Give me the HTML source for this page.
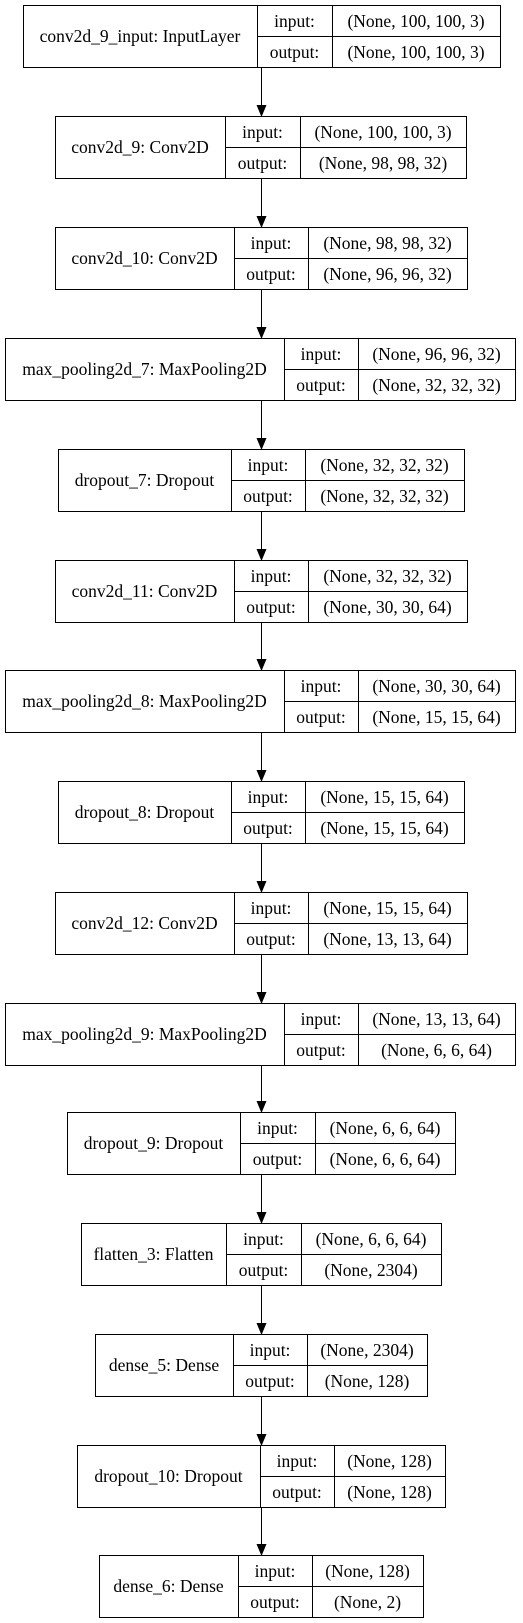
<!DOCTYPE html>
<html><head><meta charset="utf-8"><style>html,body{margin:0;padding:0;background:#fff}svg{display:block}</style></head>
<body>
<svg width="523" height="1623" xmlns="http://www.w3.org/2000/svg">
<rect width="523" height="1623" fill="#fff"/>
<g fill="none" stroke="#000">
<rect x="23.5" y="5.5" width="477" height="62"/><line x1="257.5" y1="5" x2="257.5" y2="67"/><line x1="332.5" y1="5" x2="332.5" y2="67"/><line x1="257" y1="36.5" x2="500" y2="36.5"/>
<rect x="55.5" y="116.5" width="411" height="62"/><line x1="225.5" y1="116" x2="225.5" y2="178"/><line x1="300.5" y1="116" x2="300.5" y2="178"/><line x1="225" y1="147.5" x2="466" y2="147.5"/>
<rect x="55.5" y="227.5" width="412" height="62"/><line x1="234.5" y1="227" x2="234.5" y2="289"/><line x1="308.5" y1="227" x2="308.5" y2="289"/><line x1="234" y1="258.5" x2="467" y2="258.5"/>
<rect x="5.5" y="338.5" width="510" height="62"/><line x1="284.5" y1="338" x2="284.5" y2="400"/><line x1="358.5" y1="338" x2="358.5" y2="400"/><line x1="284" y1="369.5" x2="515" y2="369.5"/>
<rect x="58.5" y="449.5" width="406" height="62"/><line x1="231.5" y1="449" x2="231.5" y2="511"/><line x1="305.5" y1="449" x2="305.5" y2="511"/><line x1="231" y1="480.5" x2="464" y2="480.5"/>
<rect x="55.5" y="560.5" width="412" height="62"/><line x1="234.5" y1="560" x2="234.5" y2="622"/><line x1="308.5" y1="560" x2="308.5" y2="622"/><line x1="234" y1="591.5" x2="467" y2="591.5"/>
<rect x="5.5" y="670.5" width="510" height="62"/><line x1="284.5" y1="670" x2="284.5" y2="732"/><line x1="358.5" y1="670" x2="358.5" y2="732"/><line x1="284" y1="701.5" x2="515" y2="701.5"/>
<rect x="58.5" y="781.5" width="406" height="62"/><line x1="231.5" y1="781" x2="231.5" y2="843"/><line x1="305.5" y1="781" x2="305.5" y2="843"/><line x1="231" y1="812.5" x2="464" y2="812.5"/>
<rect x="55.5" y="892.5" width="412" height="62"/><line x1="234.5" y1="892" x2="234.5" y2="954"/><line x1="308.5" y1="892" x2="308.5" y2="954"/><line x1="234" y1="923.5" x2="467" y2="923.5"/>
<rect x="5.5" y="1003.5" width="510" height="62"/><line x1="284.5" y1="1003" x2="284.5" y2="1065"/><line x1="358.5" y1="1003" x2="358.5" y2="1065"/><line x1="284" y1="1034.5" x2="515" y2="1034.5"/>
<rect x="67.5" y="1112.5" width="388" height="62"/><line x1="240.5" y1="1112" x2="240.5" y2="1174"/><line x1="315.5" y1="1112" x2="315.5" y2="1174"/><line x1="240" y1="1143.5" x2="455" y2="1143.5"/>
<rect x="81.5" y="1223.5" width="360" height="62"/><line x1="226.5" y1="1223" x2="226.5" y2="1285"/><line x1="301.5" y1="1223" x2="301.5" y2="1285"/><line x1="226" y1="1254.5" x2="441" y2="1254.5"/>
<rect x="95.5" y="1334.5" width="332" height="62"/><line x1="233.5" y1="1334" x2="233.5" y2="1396"/><line x1="307.5" y1="1334" x2="307.5" y2="1396"/><line x1="233" y1="1365.5" x2="427" y2="1365.5"/>
<rect x="77.5" y="1445.5" width="368" height="62"/><line x1="260.5" y1="1445" x2="260.5" y2="1507"/><line x1="334.5" y1="1445" x2="334.5" y2="1507"/><line x1="260" y1="1476.5" x2="445" y2="1476.5"/>
<rect x="99.5" y="1555.5" width="324" height="62"/><line x1="238.5" y1="1555" x2="238.5" y2="1617"/><line x1="312.5" y1="1555" x2="312.5" y2="1617"/><line x1="238" y1="1586.5" x2="423" y2="1586.5"/>
<line x1="261.5" y1="68" x2="261.5" y2="106"/><line x1="261.5" y1="179" x2="261.5" y2="217"/><line x1="261.5" y1="290" x2="261.5" y2="328"/><line x1="261.5" y1="401" x2="261.5" y2="439"/><line x1="261.5" y1="512" x2="261.5" y2="550"/><line x1="261.5" y1="623" x2="261.5" y2="660"/><line x1="261.5" y1="733" x2="261.5" y2="771"/><line x1="261.5" y1="844" x2="261.5" y2="882"/><line x1="261.5" y1="955" x2="261.5" y2="993"/><line x1="261.5" y1="1066" x2="261.5" y2="1102"/><line x1="261.5" y1="1175" x2="261.5" y2="1213"/><line x1="261.5" y1="1286" x2="261.5" y2="1324"/><line x1="261.5" y1="1397" x2="261.5" y2="1435"/><line x1="261.5" y1="1508" x2="261.5" y2="1545"/>
</g>
<g fill="#000">
<polygon points="256.5,105 266.5,105 261.5,117"/><polygon points="256.5,216 266.5,216 261.5,228"/><polygon points="256.5,327 266.5,327 261.5,339"/><polygon points="256.5,438 266.5,438 261.5,450"/><polygon points="256.5,549 266.5,549 261.5,561"/><polygon points="256.5,659 266.5,659 261.5,671"/><polygon points="256.5,770 266.5,770 261.5,782"/><polygon points="256.5,881 266.5,881 261.5,893"/><polygon points="256.5,992 266.5,992 261.5,1004"/><polygon points="256.5,1101 266.5,1101 261.5,1113"/><polygon points="256.5,1212 266.5,1212 261.5,1224"/><polygon points="256.5,1323 266.5,1323 261.5,1335"/><polygon points="256.5,1434 266.5,1434 261.5,1446"/><polygon points="256.5,1544 266.5,1544 261.5,1556"/>
</g>
<g font-family="'Liberation Serif', 'DejaVu Serif', serif" font-size="17.5" text-anchor="middle" fill="#000">
<text x="140" y="42">conv2d_9_input: InputLayer</text><text x="294.5" y="27">input:</text><text x="294.5" y="58">output:</text><text x="416" y="27">(None, 100, 100, 3)</text><text x="416" y="58">(None, 100, 100, 3)</text>
<text x="140" y="153">conv2d_9: Conv2D</text><text x="262.5" y="138">input:</text><text x="262.5" y="169">output:</text><text x="383" y="138">(None, 100, 100, 3)</text><text x="383" y="169">(None, 98, 98, 32)</text>
<text x="144.5" y="264">conv2d_10: Conv2D</text><text x="271" y="249">input:</text><text x="271" y="280">output:</text><text x="387.5" y="249">(None, 98, 98, 32)</text><text x="387.5" y="280">(None, 96, 96, 32)</text>
<text x="144.5" y="375">max_pooling2d_7: MaxPooling2D</text><text x="321" y="360">input:</text><text x="321" y="391">output:</text><text x="436.5" y="360">(None, 96, 96, 32)</text><text x="436.5" y="391">(None, 32, 32, 32)</text>
<text x="144.5" y="486">dropout_7: Dropout</text><text x="268" y="471">input:</text><text x="268" y="502">output:</text><text x="384.5" y="471">(None, 32, 32, 32)</text><text x="384.5" y="502">(None, 32, 32, 32)</text>
<text x="144.5" y="597">conv2d_11: Conv2D</text><text x="271" y="582">input:</text><text x="271" y="613">output:</text><text x="387.5" y="582">(None, 32, 32, 32)</text><text x="387.5" y="613">(None, 30, 30, 64)</text>
<text x="144.5" y="707">max_pooling2d_8: MaxPooling2D</text><text x="321" y="692">input:</text><text x="321" y="723">output:</text><text x="436.5" y="692">(None, 30, 30, 64)</text><text x="436.5" y="723">(None, 15, 15, 64)</text>
<text x="144.5" y="818">dropout_8: Dropout</text><text x="268" y="803">input:</text><text x="268" y="834">output:</text><text x="384.5" y="803">(None, 15, 15, 64)</text><text x="384.5" y="834">(None, 15, 15, 64)</text>
<text x="144.5" y="929">conv2d_12: Conv2D</text><text x="271" y="914">input:</text><text x="271" y="945">output:</text><text x="387.5" y="914">(None, 15, 15, 64)</text><text x="387.5" y="945">(None, 13, 13, 64)</text>
<text x="144.5" y="1040">max_pooling2d_9: MaxPooling2D</text><text x="321" y="1025">input:</text><text x="321" y="1056">output:</text><text x="436.5" y="1025">(None, 13, 13, 64)</text><text x="436.5" y="1056">(None, 6, 6, 64)</text>
<text x="153.5" y="1149">dropout_9: Dropout</text><text x="277.5" y="1134">input:</text><text x="277.5" y="1165">output:</text><text x="385" y="1134">(None, 6, 6, 64)</text><text x="385" y="1165">(None, 6, 6, 64)</text>
<text x="153.5" y="1260">flatten_3: Flatten</text><text x="263.5" y="1245">input:</text><text x="263.5" y="1276">output:</text><text x="371" y="1245">(None, 6, 6, 64)</text><text x="371" y="1276">(None, 2304)</text>
<text x="164" y="1371">dense_5: Dense</text><text x="270" y="1356">input:</text><text x="270" y="1387">output:</text><text x="367" y="1356">(None, 2304)</text><text x="367" y="1387">(None, 128)</text>
<text x="168.5" y="1482">dropout_10: Dropout</text><text x="297" y="1467">input:</text><text x="297" y="1498">output:</text><text x="389.5" y="1467">(None, 128)</text><text x="389.5" y="1498">(None, 128)</text>
<text x="168.5" y="1592">dense_6: Dense</text><text x="275" y="1577">input:</text><text x="275" y="1608">output:</text><text x="367.5" y="1577">(None, 128)</text><text x="367.5" y="1608">(None, 2)</text>
</g>
</svg>
</body></html>
